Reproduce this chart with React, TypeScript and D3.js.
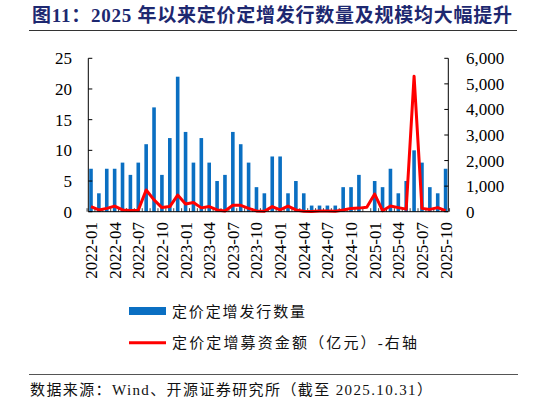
import React from "react";
import * as d3 from "d3";

const months = [
  "2022-01","2022-02","2022-03","2022-04","2022-05","2022-06","2022-07","2022-08","2022-09","2022-10","2022-11","2022-12",
  "2023-01","2023-02","2023-03","2023-04","2023-05","2023-06","2023-07","2023-08","2023-09","2023-10","2023-11","2023-12",
  "2024-01","2024-02","2024-03","2024-04","2024-05","2024-06","2024-07","2024-08","2024-09","2024-10","2024-11","2024-12",
  "2025-01","2025-02","2025-03","2025-04","2025-05","2025-06","2025-07","2025-08","2025-09","2025-10",
];
const issueCount = [
  7,3,7,7,8,6,8,11,17,6,12,22,
  13,8,12,8,5,6,13,11,8,4,3,9,
  9,3,5,3,1,1,1,1,4,4,6,0,
  5,4,7,3,5,10,8,4,3,7,
];
const raisedAmount = [
  200,70,130,220,70,50,60,850,460,160,200,650,
  300,360,150,200,70,30,250,250,130,30,20,200,
  70,220,70,20,10,30,30,20,70,130,140,170,
  690,40,220,160,100,5300,130,90,160,40,
];
const xTickLabels = months.filter((_, i) => i % 3 === 0);
const leftTicks = [0, 5, 10, 15, 20, 25];
const rightTicks = [0, 1000, 2000, 3000, 4000, 5000, 6000];

const titleText = "图11：2025 年以来定价定增发行数量及规模均大幅提升";
const legendBar = "定价定增发行数量";
const legendLine = "定价定增募资金额（亿元）-右轴";
const sourceText = "数据来源：Wind、开源证券研究所（截至 2025.10.31）";

const W = 546, H = 405;
const axL = 88.3, axR = 448.3, yT = 58.3, yB = 211.7;
const serif = "'Liberation Serif', 'Times New Roman', 'Noto Sans CJK SC', serif";
const cjk = "'Liberation Serif', 'Noto Sans CJK SC', sans-serif";

export default function App() {
  const x = d3.scalePoint<string>().domain(months).range([91, 445.6]);
  const step = x.step();
  const yL = d3.scaleLinear().domain([0, 25]).range([yB, yT]);
  const yR = d3.scaleLinear().domain([0, 6000]).range([yB, yT]);
  const fmt = d3.format(",");
  const line = d3
    .line<number>()
    .x((_, i) => x(months[i]) as number)
    .y((d) => yR(d));
  const barW = 3.6;

  return (
    <div style={{ position: "absolute", left: 0, top: 0 }}>
      <svg width={W} height={H} style={{ display: "block", background: "#fff" }}>
        {/* title */}
        <text x={32} y={22} fontFamily={cjk} fontWeight="bold" fontSize={19} fill="#1d2870"
          textLength={480} lengthAdjust="spacing">{titleText}</text>
        <line x1={29} x2={517} y1={30.5} y2={30.5} stroke="#333" strokeWidth={1.2} />

        {/* bars */}
        {issueCount.map((v, i) => (
          <rect key={i} x={(x(months[i]) as number) - barW / 2} y={yL(v)} width={barW}
            height={yB - yL(v)} fill="#0A6FC2" />
        ))}

        {/* month tick marks */}
        {months.map((m, i) => (
          <line key={m} x1={(x(m) as number) + step / 2} x2={(x(m) as number) + step / 2}
            y1={yB} y2={yB - 3.5} stroke="#444" strokeWidth={1} />
        ))}
        <line x1={(x(months[0]) as number) - step / 2} x2={(x(months[0]) as number) - step / 2}
          y1={yB} y2={yB - 3.5} stroke="#444" strokeWidth={1} />

        {/* red line */}
        <path d={line(raisedAmount) || ""} fill="none" stroke="#FF0000" strokeWidth={3}
          strokeLinejoin="round" />

        {/* axes */}
        <line x1={axL} x2={axR} y1={yB} y2={yB} stroke="#000" strokeWidth={1} />
        <line x1={axL} x2={axL} y1={yT} y2={yB} stroke="#000" strokeWidth={1} />
        <line x1={axR} x2={axR} y1={yT} y2={yB} stroke="#000" strokeWidth={1} />
        {leftTicks.map((t) => (
          <g key={"l" + t}>
            <line x1={axL} x2={axL + 4} y1={yL(t)} y2={yL(t)} stroke="#000" strokeWidth={1} />
            <text x={72} y={yL(t)} dy="0.35em" textAnchor="end" fontFamily={serif} fontSize={17} fill="#000">{t}</text>
          </g>
        ))}
        {rightTicks.map((t) => (
          <g key={"r" + t}>
            <line x1={axR - 4} x2={axR} y1={yR(t)} y2={yR(t)} stroke="#000" strokeWidth={1} />
            <text x={466} y={yR(t)} dy="0.35em" textAnchor="start" fontFamily={serif} fontSize={17} fill="#000">{fmt(t)}</text>
          </g>
        ))}
        {xTickLabels.map((m) => (
          <text key={m} transform={`translate(${x(m)},222) rotate(-90)`} dy="0.35em" textAnchor="end"
            fontFamily={serif} fontSize={17} fill="#000">{m}</text>
        ))}

        {/* legend */}
        <rect x={129} y={307} width={37} height={8} fill="#0A6FC2" />
        <text x={172} y={312} dy="0.35em" fontFamily={cjk} fontSize={15} fill="#111"
          textLength={133} lengthAdjust="spacing">{legendBar}</text>
        <line x1={129} x2={166} y1={342.7} y2={342.7} stroke="#FF0000" strokeWidth={3} />
        <text x={172} y={342.5} dy="0.35em" fontFamily={cjk} fontSize={15} fill="#111"
          textLength={245} lengthAdjust="spacing">{legendLine}</text>

        {/* source */}
        <line x1={29} x2={518} y1={374.5} y2={374.5} stroke="#555" strokeWidth={1} />
        <text x={30} y={390} dy="0.35em" fontFamily={cjk} fontSize={15} fill="#111"
          textLength={402} lengthAdjust="spacing">{sourceText}</text>
      </svg>
    </div>
  );
}
